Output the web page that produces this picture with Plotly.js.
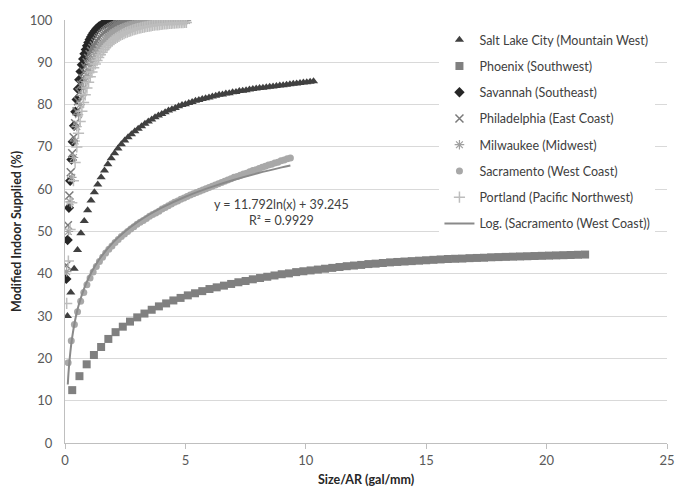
<!DOCTYPE html>
<html>
<head>
<meta charset="utf-8">
<script src="https://cdn.plot.ly/plotly-3.0.1.min.js"></script>
<style>html,body{margin:0;padding:0;background:#fff;}#chart{width:678px;height:487px;}</style>
</head>
<body>
<div id="chart"></div>
<script>
// ---- Data ----
const seriesNames = [
  "Salt Lake City (Mountain West)",
  "Phoenix (Southwest)",
  "Savannah (Southeast)",
  "Philadelphia (East Coast)",
  "Milwaukee (Midwest)",
  "Sacramento (West Coast)",
  "Portland (Pacific Northwest)",
  "Log. (Sacramento (West Coast))"
];

const saltLakeX = [0.10,0.24,0.38,0.52,0.66,0.80,0.94,1.08,1.22,1.36,1.50,1.64,1.78,1.92,2.06,2.20,2.34,2.48,2.62,2.76,2.90,3.04,3.18,3.32,3.46,3.60,3.74,3.88,4.02,4.16,4.30,4.44,4.58,4.72,4.86,5.00,5.14,5.28,5.42,5.56,5.70,5.84,5.98,6.12,6.26,6.40,6.54,6.68,6.82,6.96,7.10,7.24,7.38,7.52,7.66,7.80,7.94,8.08,8.22,8.36,8.50,8.64,8.78,8.92,9.06,9.20,9.34,9.48,9.62,9.76,9.90,10.04,10.18,10.32];
const saltLakeY = [30.0,35.6,41.2,45.6,49.6,52.5,55.0,57.3,59.3,61.1,62.8,64.4,65.9,67.3,68.5,69.6,70.6,71.5,72.3,73.0,73.7,74.3,74.9,75.5,76.0,76.5,77.0,77.4,77.8,78.2,78.6,78.9,79.2,79.6,79.9,80.1,80.4,80.6,80.9,81.1,81.3,81.5,81.7,81.9,82.1,82.3,82.4,82.6,82.7,82.9,83.0,83.2,83.3,83.4,83.55,83.7,83.8,83.9,84.0,84.1,84.2,84.3,84.4,84.5,84.6,84.7,84.8,84.9,85.0,85.1,85.2,85.3,85.4,85.5];

const phoenixX = [0.3,0.6,0.9,1.2,1.5,1.8,2.1,2.4,2.7,3.0,3.3,3.6,3.9,4.2,4.5,4.8,5.1,5.4,5.7,6.0,6.3,6.6,6.9,7.2,7.5,7.8,8.1,8.4,8.7,9.0,9.3,9.6,9.9,10.2,10.5,10.8,11.1,11.4,11.7,12.0,12.3,12.6,12.9,13.2,13.5,13.8,14.1,14.4,14.7,15.0,15.3,15.6,15.9,16.2,16.5,16.8,17.1,17.4,17.7,18.0,18.3,18.6,18.9,19.2,19.5,19.8,20.1,20.4,20.7,21.0,21.3,21.6];
const phoenixY = [12.5,15.8,18.6,20.8,22.7,24.6,26.2,27.5,28.7,29.7,30.6,31.5,32.3,33.0,33.7,34.3,34.9,35.4,35.9,36.4,36.8,37.2,37.6,38.0,38.3,38.7,39.0,39.3,39.6,39.9,40.1,40.4,40.6,40.8,41.0,41.2,41.4,41.6,41.8,41.95,42.1,42.3,42.4,42.55,42.7,42.8,42.9,43.0,43.1,43.2,43.3,43.4,43.5,43.55,43.6,43.7,43.75,43.8,43.9,43.95,44.0,44.05,44.1,44.15,44.2,44.25,44.3,44.35,44.4,44.45,44.5,44.55];

const savannahX = [0.054,0.108,0.162,0.216,0.27,0.324,0.378,0.432,0.486,0.54,0.594,0.648,0.702,0.756,0.81,0.864,0.918,0.972,1.026,1.08,1.134,1.188,1.242,1.296,1.35,1.404,1.458,1.512,1.566,1.62,1.674,1.728,1.782,1.836,1.89,1.944,1.998,2.052,2.106,2.16,2.214,2.268,2.322,2.376,2.43,2.484,2.538,2.592,2.646,2.7,2.754,2.808,2.862,2.916,2.97,3.024,3.078,3.132,3.186,3.24,3.294,3.348,3.402,3.456,3.51,3.564,3.618,3.672,3.726,3.78,3.834,3.888];
const savannahY = [38.8,48.0,55.6,62.0,67.0,71.2,75.0,78.3,81.2,83.7,85.9,87.8,89.4,90.8,92.0,93.0,93.9,94.7,95.4,96.0,96.5,97.0,97.4,97.8,98.1,98.4,98.6,98.8,99.0,99.15,99.3,99.4,99.5,99.6,99.65,99.7,99.75,99.8,99.82,99.85,99.87,99.89,99.9,99.91,99.92,99.93,99.94,99.95,99.95,99.96,99.96,99.97,99.97,99.97,99.98,99.98,99.98,99.98,99.99,99.99,99.99,99.99,99.99,99.99,100,100,100,100,100,100,100,100];

const philadelphiaX = [0.06,0.12,0.18,0.24,0.30,0.36,0.42,0.48,0.54,0.60,0.66,0.72,0.78,0.84,0.90,0.96,1.02,1.08,1.14,1.20,1.26,1.32,1.38,1.44,1.50,1.56,1.62,1.68,1.74,1.80,1.86,1.92,1.98,2.04,2.10,2.16,2.22,2.28,2.34,2.40,2.46,2.52,2.58,2.64,2.70,2.76,2.82,2.88,2.94,3.00,3.06,3.12,3.18,3.24,3.30,3.36,3.42,3.48,3.54,3.60,3.66,3.72,3.78,3.84,3.90,3.96,4.02,4.08,4.14,4.20,4.26,4.32];
const philadelphiaY = [42.0,51.5,58.5,64.0,68.5,72.3,75.6,78.4,80.8,82.9,84.7,86.3,87.7,88.9,90.0,91.0,91.9,92.7,93.4,94.0,94.6,95.1,95.6,96.0,96.4,96.75,97.05,97.35,97.6,97.85,98.05,98.25,98.45,98.6,98.75,98.9,99.0,99.1,99.2,99.3,99.38,99.45,99.5,99.56,99.62,99.66,99.7,99.74,99.77,99.8,99.83,99.85,99.87,99.89,99.9,99.91,99.92,99.93,99.94,99.95,99.95,99.96,99.96,99.97,99.97,99.98,99.98,99.98,99.99,99.99,99.99,100];

const milwaukeeX = [0.07,0.14,0.21,0.28,0.35,0.42,0.49,0.56,0.63,0.70,0.77,0.84,0.91,0.98,1.05,1.12,1.19,1.26,1.33,1.40,1.47,1.54,1.61,1.68,1.75,1.82,1.89,1.96,2.03,2.10,2.17,2.24,2.31,2.38,2.45,2.52,2.59,2.66,2.73,2.80,2.87,2.94,3.01,3.08,3.15,3.22,3.29,3.36,3.43,3.50,3.57,3.64,3.71,3.78,3.85,3.92,3.99,4.06,4.13,4.20,4.27,4.34,4.41,4.48,4.55,4.62,4.69,4.76,4.83,4.90,4.97,5.04];
const milwaukeeY = [40.5,50.0,57.0,62.8,67.5,71.4,74.8,77.6,80.0,82.1,83.9,85.5,86.9,88.1,89.2,90.2,91.1,91.9,92.6,93.25,93.85,94.4,94.9,95.35,95.75,96.1,96.45,96.75,97.0,97.25,97.5,97.7,97.9,98.05,98.2,98.35,98.5,98.6,98.7,98.8,98.9,98.98,99.05,99.12,99.18,99.24,99.3,99.35,99.4,99.44,99.48,99.52,99.55,99.58,99.61,99.64,99.66,99.68,99.7,99.72,99.74,99.76,99.78,99.79,99.8,99.81,99.82,99.83,99.84,99.85,99.86,99.87];

const sacramentoX = [0.13,0.26,0.39,0.52,0.65,0.78,0.91,1.04,1.17,1.30,1.43,1.56,1.69,1.82,1.95,2.08,2.21,2.34,2.47,2.60,2.73,2.86,2.99,3.12,3.25,3.38,3.51,3.64,3.77,3.90,4.03,4.16,4.29,4.42,4.55,4.68,4.81,4.94,5.07,5.20,5.33,5.46,5.59,5.72,5.85,5.98,6.11,6.24,6.37,6.50,6.63,6.76,6.89,7.02,7.15,7.28,7.41,7.54,7.67,7.80,7.93,8.06,8.19,8.32,8.45,8.58,8.71,8.84,8.97,9.10,9.23,9.36];
const sacramentoY = [19.0,24.2,28.0,31.0,33.5,35.6,37.4,39.0,40.4,41.7,42.9,43.9,44.9,45.8,46.6,47.4,48.1,48.8,49.4,50.0,50.6,51.1,51.7,52.2,52.6,53.1,53.6,54.0,54.4,54.8,55.3,55.7,56.1,56.5,56.9,57.2,57.6,57.9,58.3,58.6,58.9,59.2,59.5,59.8,60.1,60.4,60.7,61.0,61.3,61.6,61.9,62.2,62.5,62.8,63.0,63.3,63.6,63.8,64.1,64.4,64.6,64.9,65.2,65.4,65.7,65.9,66.2,66.4,66.7,66.9,67.2,67.4];

const portlandX = [0.07,0.14,0.21,0.28,0.35,0.42,0.49,0.56,0.63,0.70,0.77,0.84,0.91,0.98,1.05,1.12,1.19,1.26,1.33,1.40,1.47,1.54,1.61,1.68,1.75,1.82,1.89,1.96,2.03,2.10,2.17,2.24,2.31,2.38,2.45,2.52,2.59,2.66,2.73,2.80,2.87,2.94,3.01,3.08,3.15,3.22,3.29,3.36,3.43,3.50,3.57,3.64,3.71,3.78,3.85,3.92,3.99,4.06,4.13,4.20,4.27,4.34,4.41,4.48,4.55,4.62,4.69,4.76,4.83,4.90,4.97,5.04];
const portlandY = [33.0,43.0,50.5,56.8,62.0,66.3,70.0,73.2,76.0,78.4,80.5,82.3,83.9,85.3,86.6,87.7,88.7,89.6,90.4,91.15,91.8,92.4,92.95,93.45,93.9,94.3,94.7,95.05,95.35,95.65,95.9,96.15,96.4,96.6,96.8,97.0,97.15,97.3,97.45,97.6,97.72,97.84,97.95,98.05,98.15,98.24,98.33,98.41,98.49,98.56,98.63,98.7,98.76,98.82,98.87,98.92,98.97,99.02,99.06,99.1,99.14,99.18,99.21,99.24,99.27,99.3,99.33,99.35,99.37,99.39,99.41,99.43];

// Logarithmic trendline shown on the chart: y = 11.792ln(x) + 39.245
const trendX = [0.116,0.13,0.16,0.2,0.25,0.3,0.4,0.5,0.6,0.8,1,1.25,1.5,2,2.5,3,3.5,4,5,6,7,8,9,9.36];
const trendY = [13.84,15.19,17.64,20.27,22.90,25.05,28.44,31.07,33.22,36.61,39.25,41.88,44.03,47.42,50.05,52.20,54.02,55.59,58.22,60.37,62.19,63.77,65.16,65.62];

const trendText = ["y = 11.792ln(x) + 39.245", "R² = 0.9929"];
const xTitle = "Size/AR (gal/mm)";
const yTitle = "Modified Indoor Supplied (%)";

// ---- Styles ----
const FONT = "Lato, 'Open Sans', sans-serif";
function sc(name, x, y, symbol, color, size, lw, i) {
  return {
    type: "scatter", mode: "markers", name: name, x: x, y: y,
    legendgroup: "g" + i,
    marker: {symbol: symbol, color: color, size: size, line: {color: color, width: lw}},
    hoverinfo: "skip"
  };
}
const traces = [
  sc(seriesNames[0], saltLakeX, saltLakeY, "triangle-up", "#404040", 8, 0, 0),
  sc(seriesNames[1], phoenixX, phoenixY, "square", "#808080", 8, 0, 1),
  sc(seriesNames[2], savannahX, savannahY, "diamond", "#262626", 8, 0, 2),
  sc(seriesNames[3], philadelphiaX, philadelphiaY, "x-thin-open", "#7a7a7a", 8, 1.5, 3),
  sc(seriesNames[4], milwaukeeX, milwaukeeY, "asterisk-open", "#a0a0a0", 8, 1.2, 4),
  sc(seriesNames[5], sacramentoX, sacramentoY, "circle", "#a8a8a8", 7, 0, 5),
  sc(seriesNames[6], portlandX, portlandY, "cross-thin-open", "#bdbdbd", 8, 1.5, 6),
  {
    type: "scatter", mode: "lines", name: seriesNames[7], x: trendX, y: trendY,
    legendgroup: "g7", line: {color: "#8a8a8a", width: 2, shape: "spline"}, hoverinfo: "skip"
  }
];

const layout = {
  width: 678, height: 487,
  margin: {l: 65, r: 11, t: 20, b: 44},
  paper_bgcolor: "#ffffff", plot_bgcolor: "#ffffff",
  font: {family: FONT, size: 13, color: "#595959"},
  showlegend: true,
  legend: {
    x: 0.622, y: 0.988, xanchor: "left", yanchor: "top",
    bgcolor: "#ffffff", borderwidth: 0,
    font: {family: FONT, size: 12.5, color: "#404040"},
    traceorder: "grouped", tracegroupgap: 7,
    itemwidth: 30
  },
  xaxis: {
    range: [0, 25], dtick: 5, tick0: 0,
    showgrid: false, zeroline: false,
    showline: true, linecolor: "#bfbfbf", linewidth: 1,
    ticks: "outside", ticklen: 5, tickcolor: "#bfbfbf",
    tickfont: {family: FONT, size: 13, color: "#595959"},
    title: {text: xTitle, font: {family: FONT, size: 12.5, color: "#262626", weight: "bold"}, standoff: 10}
  },
  yaxis: {
    range: [0, 100], dtick: 10, tick0: 0,
    showgrid: true, gridcolor: "#d9d9d9", gridwidth: 1,
    zeroline: false,
    showline: true, linecolor: "#bfbfbf", linewidth: 1,
    ticks: "", ticklabelstandoff: 9,
    tickfont: {family: FONT, size: 13, color: "#595959"},
    title: {text: yTitle, font: {family: FONT, size: 12.5, color: "#262626", weight: "bold"}, standoff: 5}
  },
  annotations: [{
    x: 9.0, y: 54.5, xref: "x", yref: "y",
    text: trendText.join("<br>"), showarrow: false,
    align: "center", font: {family: FONT, size: 12.5, color: "#404040"}
  }]
};

Plotly.newPlot("chart", traces, layout, {displayModeBar: false, staticPlot: true});
</script>
</body>
</html>
